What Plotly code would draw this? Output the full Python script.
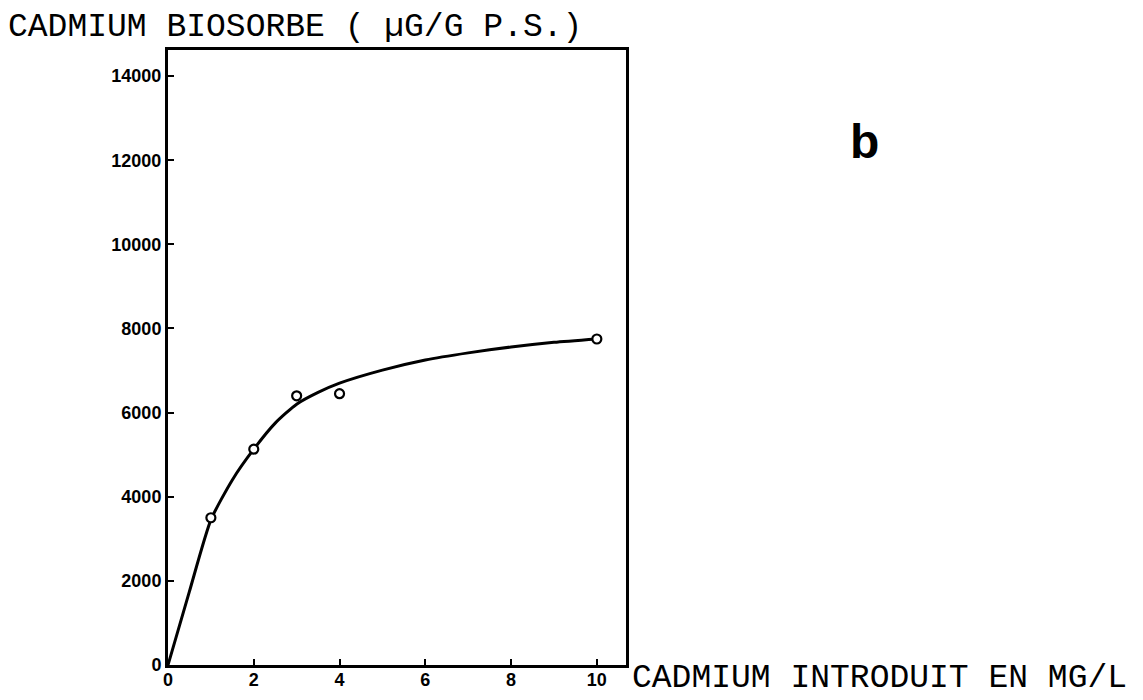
import plotly.graph_objects as go

# Measured data points (Cd introduced mg/L vs Cd biosorbed µg/g dry weight)
x_points = [1, 2, 3, 4, 10]
y_points = [3500, 5130, 6400, 6450, 7750]

# Hand-drawn fitted curve
x_curve = [0, 0.5, 1, 1.5, 2, 2.5, 3, 3.5, 4, 5, 6, 7, 8, 9, 10]
y_curve = [0, 1750, 3450, 4400, 5130, 5750, 6200, 6480, 6700, 7010, 7250, 7420, 7560, 7670, 7750]

x_ticks = [0, 2, 4, 6, 8, 10]
y_ticks = [0, 2000, 4000, 6000, 8000, 10000, 12000, 14000]

OFF = 8  # page body margin
W, H = 1143 - OFF, 700 - OFF
L, R, T, B = 168 - OFF, 626 - OFF, 50 - OFF, 665 - OFF


def px(xp):
    return (xp - OFF - L) / (R - L)


def py(yp):
    return (B - (yp - OFF)) / (B - T)


fig = go.Figure()
fig.add_trace(go.Scatter(
    x=x_curve, y=y_curve, mode="lines", line=dict(color="black", width=3, shape="spline", smoothing=0.6),
    hoverinfo="skip", showlegend=False))
fig.add_trace(go.Scatter(
    x=x_points, y=y_points, mode="markers",
    marker=dict(symbol="circle", size=9, color="white", line=dict(color="black", width=2.2)),
    showlegend=False))

tickfont = dict(family="Liberation Sans", size=18, color="black", weight="bold")
mono = "Liberation Mono"

fig.update_layout(
    width=W, height=H,
    margin=dict(l=L, r=W - R, t=T, b=H - B, autoexpand=False),
    paper_bgcolor="white", plot_bgcolor="white",
    xaxis=dict(range=[0, 10.68], tickvals=x_ticks, ticktext=[str(v) for v in x_ticks],
               ticks="inside", ticklen=6, tickwidth=2, tickcolor="black",
               showline=True, linecolor="black", linewidth=3, mirror=True,
               showgrid=False, zeroline=False, tickfont=tickfont, ticklabelstandoff=-4),
    yaxis=dict(range=[0, 14620], tickvals=y_ticks, ticktext=[str(v) for v in y_ticks],
               ticks="inside", ticklen=6, tickwidth=2, tickcolor="black",
               showline=True, linecolor="black", linewidth=3, mirror=True,
               showgrid=False, zeroline=False, tickfont=tickfont, ticklabelstandoff=0),
    annotations=[
        dict(text="CADMIUM BIOSORBE ( \u00b5G/G P.S.)", xref="paper", yref="paper",
             x=px(6), y=py(28), xanchor="left", yanchor="middle", showarrow=False,
             font=dict(family=mono, size=33, color="black")),
        dict(text="CADMIUM INTRODUIT EN MG/L", xref="paper", yref="paper",
             x=px(630), y=py(699), xanchor="left", yanchor="bottom", showarrow=False,
             font=dict(family=mono, size=33, color="black")),
        dict(text="b", xref="paper", yref="paper",
             x=px(864), y=py(142), xanchor="center", yanchor="middle", showarrow=False,
             font=dict(family="Liberation Sans", size=48, color="black", weight="bold")),
    ],
)

fig.write_html("out.html")
